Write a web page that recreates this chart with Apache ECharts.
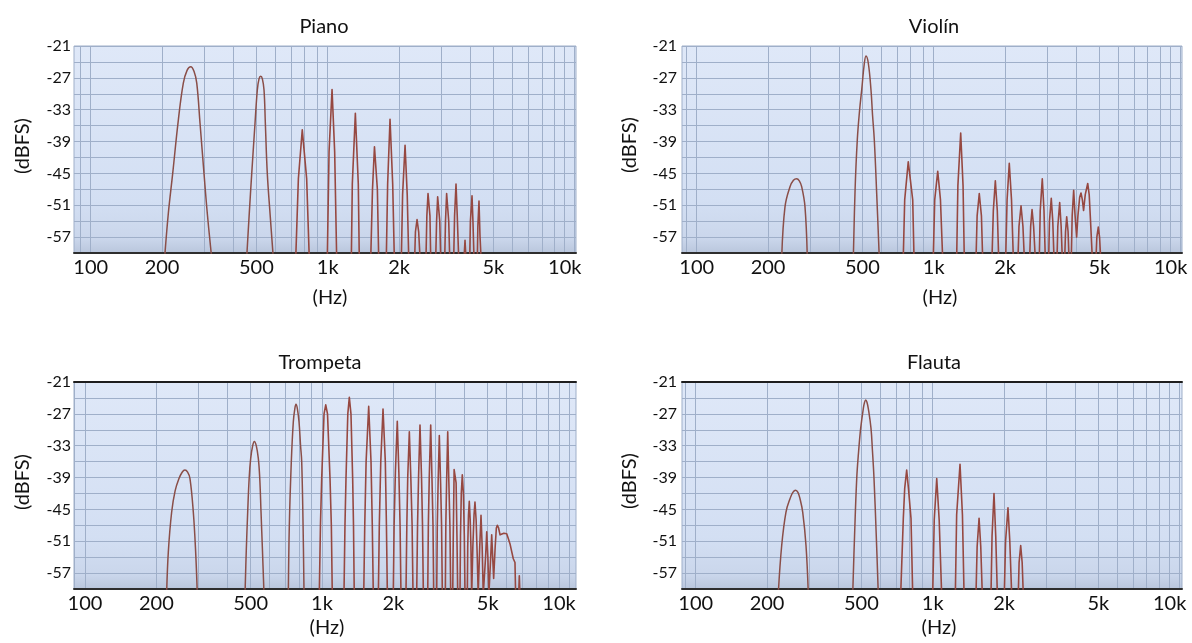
<!DOCTYPE html>
<html>
<head>
<meta charset="utf-8">
<title>Espectros de instrumentos</title>
<script src="https://cdn.jsdelivr.net/npm/echarts@6/dist/echarts.min.js"></script>
<style>
  html, body { margin: 0; padding: 0; background: #ffffff; }
  #chart { width: 1192px; height: 643px; }
</style>
</head>
<body>
<div id="chart"></div>
<script>
// ---- Data: spectra as [frequency Hz, level dBFS] ----
const TITLES = ['Piano', 'Violín', 'Trompeta', 'Flauta'];
const FREQ_GRID = [90, 100, 200, 300, 400, 500, 600, 700, 800, 900,
  1000, 2000, 3000, 4000, 5000, 6000, 7000, 8000, 9000, 10000, 11000];
const FREQ_LABELS = [100, 200, 500, 1000, 2000, 5000, 10000];
const DB_LABELS = [-57, -51, -45, -39, -33, -27, -21];
const DB_MIN = -60, DB_MAX = -21, DB_STEP = 3;

// Broad low harmonics, one list per peak (drawn smoothed)
const pianoLow = [
  [[205,-61],[212.5,-52.6],[221.8,-45],[234.2,-35],[245.9,-28],[255,-25.6],[264.2,-24.9],[273,-25.8],[280.2,-28],[289.3,-35.6],[300.6,-45],[310.5,-52.6],[324,-61]],
  [[455,-61],[466,-53],[478,-45],[493.4,-35.6],[504.7,-29.3],[513,-27.2],[521.7,-26.7],[530,-27.2],[538.6,-29.3],[545.6,-35.6],[556,-45],[572,-53],[589.5,-61]]
];
// Narrow upper harmonics
const pianoHigh = [
  [733,-61],[752,-46],[781,-36.8],[815,-46],[836,-61],
  [996,-61],[1013,-41],[1043,-29.2],[1070,-41],[1091,-61],
  [1258,-61],[1270,-47],[1308,-33.7],[1346,-47],[1359,-61],
  [1519,-61],[1545,-48],[1575,-40],[1592,-40],[1620,-48],[1641,-61],
  [1767,-61],[1790,-47],[1832,-34.8],[1880,-47],[1910,-61],
  [2045,-61],[2070,-49],[2120,-39.7],[2165,-49],[2197,-61],
  [2328,-61],[2345,-56],[2382,-53.7],[2420,-56],[2452,-61],
  [2598,-61],[2620,-53],[2650,-48.8],[2680,-49],[2700,-53],[2720,-61],
  [2856,-61],[2880,-54],[2910,-49.4],[2940,-49.6],[2970,-54],[2998,-61],
  [3117,-61],[3140,-54],[3175,-48.8],[3205,-49],[3240,-54],[3272,-61],
  [3401,-61],[3430,-53],[3478,-47],[3520,-53],[3570,-61],
  [3760,-61],[3796,-57.6],[3830,-61],
  [3973,-61],[4000,-54],[4063,-49.2],[4100,-54],[4142,-61],
  [4279,-61],[4300,-55],[4348,-50.2],[4390,-56.7],[4436,-61]
];

const violinLow = [
  [[228.4,-61],[235.8,-51.3],[247.6,-47.5],[256,-46.3],[264,-46],[271,-46.4],[277.3,-47.5],[286.4,-51.3],[292.9,-61]],
  [[458,-61],[466,-48],[476,-38.7],[487,-33],[496.8,-29.3],[509.6,-24.3],[518,-22.9],[530,-24.3],[543.8,-29.3],[552,-34],[561.6,-38.7],[575,-49],[589.5,-61]]
];
const violinHigh = [
  [744,-61],[754.5,-50],[781,-42.8],[815.6,-50],[826,-61],
  [996,-61],[1010,-50],[1040,-44.6],[1068,-50],[1091,-61],
  [1250,-61],[1265,-47.3],[1300,-37.4],[1330,-47.3],[1346,-61],
  [1509,-61],[1525,-53],[1557,-48.8],[1590,-53],[1609,-61],
  [1762,-61],[1785,-52],[1820,-46.4],[1855,-52],[1880,-61],
  [2013,-61],[2040,-50],[2084,-43.1],[2130,-50],[2168,-61],
  [2268,-61],[2290,-55],[2336,-51.1],[2380,-55],[2412,-61],
  [2541,-61],[2565,-55],[2600,-51.8],[2640,-55],[2683,-61],
  [2790,-61],[2815,-52],[2872,-46],[2920,-52],[2957,-61],
  [3056,-61],[3080,-54],[3134,-49.7],[3180,-54],[3218,-61],
  [3314,-61],[3340,-55],[3401,-50.5],[3450,-55],[3488,-61],
  [3571,-61],[3600,-56],[3641,-53.2],[3690,-56],[3723,-61],
  [3807,-61],[3840,-53],[3896,-48.2],[3950,-53],[4010,-57],[4060,-53],[4130,-49.5],[4183,-48.7],[4240,-50],[4290,-52],[4360,-49],[4466,-46.9],[4530,-49],[4590,-54],[4670,-61],
  [4839,-61],[4880,-57],[4949,-55.1],[5010,-57],[5065,-61]
];

const trumpetLow = [
  [[221,-61],[224.7,-53],[232.1,-45.5],[240,-41.5],[249.2,-39.2],[257,-38],[264,-37.6],[271,-38],[277.3,-39.2],[286.4,-45.5],[293,-53],[297.8,-61]],
  [[473.3,-61],[479,-53],[485.8,-45.5],[493,-39],[500.2,-35.4],[510,-33],[518,-32.2],[528,-33],[538.6,-35.4],[546,-39],[553,-45.5],[561,-53],[569.3,-61]],
  [[720.9,-61],[728,-48],[742.2,-36],[756.8,-28.5],[768,-26],[776.6,-25.2],[787,-26],[799.8,-28.5],[812,-33],[821,-36],[832,-48],[839.9,-61]]
];
const trumpetHigh = [
  [974,-61],[985,-48],[997,-39.2],[1020,-27],[1037,-25.3],[1055,-27],[1081,-39.2],[1095,-48],[1105,-61],
  [1238,-61],[1250,-48],[1262.5,-39.2],[1285,-27],[1304,-23.9],[1325,-27],[1347,-39.2],[1358,-48],[1368,-61],
  [1500,-61],[1515,-48],[1535,-36],[1574,-25.6],[1610,-36],[1630,-48],[1646,-61],
  [1729,-61],[1745,-48],[1770,-36],[1809,-26.1],[1850,-36],[1870,-48],[1887,-61],
  [1999,-61],[2015,-48],[2040,-38],[2078,-28.4],[2110,-38],[2135,-48],[2154,-61],
  [2261,-61],[2280,-48],[2300,-39],[2336,-30.4],[2370,-39],[2400,-48],[2421,-61],
  [2509,-61],[2530,-48],[2555,-39],[2591,-29.1],[2630,-39],[2655,-48],[2677,-61],
  [2793,-61],[2810,-48],[2835,-39],[2875,-29.1],[2910,-39],[2940,-48],[2960,-61],
  [3047,-61],[3065,-48],[3090,-40],[3126,-31.1],[3165,-40],[3195,-48],[3219,-61],
  [3314,-61],[3330,-48],[3355,-40],[3392,-30.4],[3430,-40],[3465,-48],[3492,-61],
  [3561,-61],[3580,-50],[3610,-37.5],[3641,-37.3],[3680,-40],[3710,-50],[3738,-61],
  [3822,-61],[3840,-50],[3870,-42],[3908,-38.5],[3950,-42],[3985,-50],[4012,-61],
  [4103,-61],[4120,-52],[4150,-46],[4183,-43.5],[4220,-47],[4250,-52],[4282,-61],
  [4300,-61],[4330,-52],[4380,-46],[4420,-43.6],[4470,-47],[4520,-54],[4560,-61],
  [4600,-61],[4630,-52],[4687,-46.1],[4740,-52],[4790,-61],
  [4860,-61],[4900,-54],[4955,-49.2],[5010,-54],[5060,-61],
  [5110,-61],[5150,-54],[5200,-49.8],[5250,-54],[5300,-58],
  [5380,-52],[5440,-48.5],[5493,-48],[5560,-48.5],[5640,-49.8],[5731,-50],[5850,-49.5],[6016,-49.6],[6110,-50.5],[6213,-51.5],[6320,-53],[6414,-54.3],[6520,-55],[6560,-61],
  [6760,-61],[6800,-57.5],[6840,-61]
];

const fluteLow = [
  [[223,-61],[230.6,-51.8],[240.4,-45.5],[250,-43],[257,-41.8],[264.2,-41.4],[270,-41.8],[275.5,-43],[282.8,-45.5],[292,-51.8],[298.7,-61]],
  [[459.7,-61],[468,-50],[478,-39.2],[487,-34],[496.8,-29.7],[509.6,-26],[516,-24.8],[521.7,-24.4],[528,-24.8],[535,-26],[549,-29.7],[557,-34],[565.4,-39.2],[578,-50],[589.5,-61]]
];
const fluteHigh = [
  [732.8,-61],[751.6,-46.7],[762,-41],[776.6,-37.6],[790,-41],[810,-46.7],[823.4,-61],
  [1000,-61],[1015,-47],[1040,-39.2],[1065,-47],[1091,-61],
  [1246,-61],[1262,-46],[1304,-36.5],[1335,-46],[1356,-61],
  [1523,-61],[1540,-52],[1569,-46.7],[1595,-52],[1619,-61],
  [1762,-61],[1780,-50],[1814,-42],[1845,-50],[1874,-61],
  [2005,-61],[2030,-51],[2078,-44.7],[2115,-51],[2154,-61],
  [2297,-61],[2315,-55],[2351,-51.8],[2385,-55],[2411,-61]
];

const SPECTRA = [
  { low: pianoLow, high: pianoHigh },
  { low: violinLow, high: violinHigh },
  { low: trumpetLow, high: trumpetHigh },
  { low: fluteLow, high: fluteHigh }
];

// ---- Layout ----
const PANELS = [
  { left: 74,  top: 46,  width: 502, height: 207, xMin: 1.9295, xMax: 4.0476, labelGap: 3, title: [324, 27],  yName: [23, 146],  xName: [330, 298], frameTop: false },
  { left: 682, top: 46,  width: 500, height: 207, xMin: 1.9380, xMax: 4.0477, labelGap: 5, title: [934, 27],  yName: [630, 145], xName: [940, 298], frameTop: false },
  { left: 74,  top: 382, width: 502, height: 207, xMin: 1.9536, xMax: 4.0717, labelGap: 3, title: [320, 363], yName: [23, 482],  xName: [327, 628], frameTop: true },
  { left: 682, top: 382, width: 500, height: 207, xMin: 1.9422, xMax: 4.0519, labelGap: 5, title: [934, 363], yName: [630, 481], xName: [939, 628], frameTop: true }
];

const FONT = 'Lato, "Open Sans", sans-serif';
const GRID_LINE = '#9fafc9';
const TRACE = '#964841';
const TRACE_LOW = '#8a4e48';

const toLog = pts => pts.map(([f, d]) => [Math.log10(f), d]);
const freqLabel = v => {
  const f = Math.round(Math.pow(10, v));
  return f >= 1000 ? (f / 1000) + 'k' : String(f);
};

const grids = [], xAxes = [], yAxes = [], series = [], graphics = [];

PANELS.forEach((p, i) => {
  grids.push({
    left: p.left, top: p.top, width: p.width, height: p.height,
    show: true,
    borderColor: GRID_LINE, borderWidth: 1,
    backgroundColor: {
      type: 'linear', x: 0, y: 0, x2: 0, y2: 1,
      colorStops: [
        { offset: 0, color: '#dfe8f8' },
        { offset: 0.75, color: '#d3dff3' },
        { offset: 0.93, color: '#cad6eb' },
        { offset: 1, color: '#b9c6dc' }
      ]
    }
  });
  xAxes.push({
    gridIndex: i, type: 'value', min: p.xMin, max: p.xMax,
    axisLine: { show: true, onZero: false, lineStyle: { color: '#2e2e2e', width: 2 } },
    axisTick: { show: false, customValues: FREQ_GRID.map(f => Math.log10(f)) },
    splitLine: { show: true, lineStyle: { color: GRID_LINE, width: 1 } },
    axisLabel: {
      customValues: FREQ_LABELS.map(f => Math.log10(f)),
      formatter: freqLabel, fontFamily: FONT, fontSize: 20, color: '#111', margin: 5,
      showMinLabel: true, showMaxLabel: true, hideOverlap: false
    }
  });
  yAxes.push({
    gridIndex: i, type: 'value', min: DB_MIN, max: DB_MAX, interval: DB_STEP,
    axisLine: { show: false },
    axisTick: { show: false },
    splitLine: { show: true, lineStyle: { color: GRID_LINE, width: 1 } },
    axisLabel: {
      formatter: v => DB_LABELS.includes(Math.round(v)) ? String(Math.round(v)) : '',
      fontFamily: FONT, fontSize: 16, color: '#111', margin: p.labelGap,
      showMinLabel: true, showMaxLabel: true
    }
  });
  SPECTRA[i].low.forEach(peak => {
    series.push({
      type: 'line', xAxisIndex: i, yAxisIndex: i, data: toLog(peak),
      smooth: 0.4, symbol: 'none', clip: true, silent: true,
      lineStyle: { color: TRACE_LOW, width: 1.5 }
    });
  });
  series.push({
    type: 'line', xAxisIndex: i, yAxisIndex: i, data: toLog(SPECTRA[i].high),
    smooth: false, symbol: 'none', clip: true, silent: true,
    lineStyle: { color: TRACE, width: 1.6, join: 'round' }
  });
  graphics.push({
    type: 'text', x: p.title[0], y: p.title[1],
    style: { text: TITLES[i], font: '20px ' + FONT, fill: '#111', textAlign: 'center', textVerticalAlign: 'middle' }
  });
  graphics.push({
    type: 'text', x: p.yName[0], y: p.yName[1], rotation: Math.PI / 2,
    style: { text: '(dBFS)', font: '20px ' + FONT, fill: '#111', textAlign: 'center', textVerticalAlign: 'middle' }
  });
  graphics.push({
    type: 'text', x: p.xName[0], y: p.xName[1],
    style: { text: '(Hz)', font: '20px ' + FONT, fill: '#111', textAlign: 'center', textVerticalAlign: 'middle' }
  });
});

// Dark upper frame for the lower row
PANELS.forEach((p, i) => {
  if (!p.frameTop) return;
  xAxes.push({
    gridIndex: i, type: 'value', position: 'top', min: p.xMin, max: p.xMax,
    axisLine: { show: true, onZero: false, lineStyle: { color: '#1e1e1e', width: 2 } },
    axisTick: { show: false }, axisLabel: { show: false }, splitLine: { show: false }
  });
});

const chart = echarts.init(document.getElementById('chart'), null, { renderer: 'canvas' });
chart.setOption({
  animation: false,
  backgroundColor: '#ffffff',
  grid: grids,
  xAxis: xAxes,
  yAxis: yAxes,
  series: series,
  graphic: graphics
});
</script>
</body>
</html>
